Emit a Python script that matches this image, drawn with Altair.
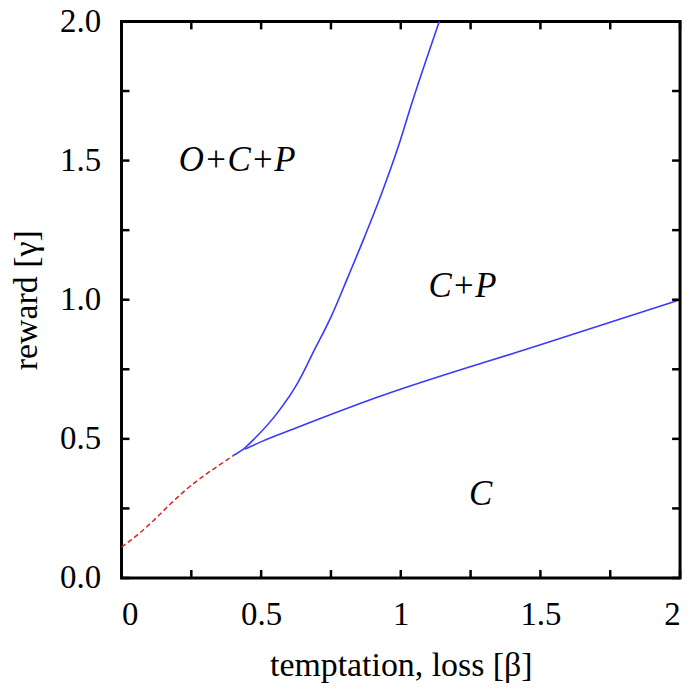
import altair as alt
import pandas as pd

# dashed (red) boundary
red_beta = [0.0, 0.055, 0.114, 0.174, 0.233, 0.293, 0.352, 0.400]
red_gamma = [0.111, 0.153, 0.206, 0.265, 0.319, 0.366, 0.407, 0.440]

# upper blue boundary (O+C+P | C+P)
up_beta = [0.400, 0.442, 0.4775, 0.561, 0.632, 0.686, 0.751, 0.811, 0.870, 0.930, 0.989, 1.037, 1.138]
up_gamma = [0.440, 0.468, 0.502, 0.597, 0.703, 0.810, 0.940, 1.082, 1.225, 1.378, 1.544, 1.698, 2.0]

# lower blue boundary (C+P | C)
lo_beta = [0.442, 0.501, 0.620, 0.918, 1.5, 2.0]
lo_gamma = [0.463, 0.490, 0.537, 0.650, 0.838, 1.0]

labels = ["O+C+P", "C+P", "C"]
label_beta = [0.414, 1.221, 1.286]
label_gamma = [1.503, 1.048, 0.302]

x_ticks = [0, 0.25, 0.5, 0.75, 1.0, 1.25, 1.5, 1.75, 2.0]
y_ticks = [0, 0.25, 0.5, 0.75, 1.0, 1.25, 1.5, 1.75, 2.0]

W, H = 561, 559
FONT = "Liberation Serif"

red_df = pd.DataFrame({"b": red_beta, "g": red_gamma, "i": range(len(red_beta))})
up_df = pd.DataFrame({"b": up_beta, "g": up_gamma, "i": range(len(up_beta))})
lo_df = pd.DataFrame({"b": lo_beta, "g": lo_gamma, "i": range(len(lo_beta))})
lab_df = pd.DataFrame({"t": labels, "b": label_beta, "g": label_gamma})
xt_df = pd.DataFrame({"v": x_ticks})
yt_df = pd.DataFrame({"v": y_ticks})

xscale = alt.Scale(domain=[0, 2], nice=False)
yscale = alt.Scale(domain=[0, 2], nice=False)

xaxis = alt.Axis(values=[0, 0.5, 1, 1.5, 2],
                 labelExpr="datum.value % 1 == 0 ? format(datum.value, 'd') : format(datum.value, '.1f')",
                 title="temptation, loss [β]", ticks=False, domain=False, grid=False,
                 labelFont=FONT, labelFontSize=33, labelColor="black", labelPadding=21,
                 titleFont=FONT, titleFontSize=34, titleFontWeight="normal", titleColor="black", titlePadding=17)
yaxis = alt.Axis(values=[0, 0.5, 1, 1.5, 2], format=".1f",
                 title="reward [γ]", ticks=False, domain=False, grid=False,
                 labelFont=FONT, labelFontSize=33, labelColor="black", labelPadding=21,
                 titleFont=FONT, titleFontSize=34, titleFontWeight="normal", titleColor="black", titlePadding=16)

red = alt.Chart(red_df).mark_line(color="#dd2222", strokeWidth=1.5, strokeDash=[5, 3],
                                  interpolate="monotone").encode(
    x=alt.X("b:Q", scale=xscale, axis=xaxis),
    y=alt.Y("g:Q", scale=yscale, axis=yaxis),
    order="i:Q",
)
up = alt.Chart(up_df).mark_line(color="#3a3aff", strokeWidth=1.6, interpolate="monotone").encode(
    x=alt.X("b:Q", scale=xscale), y=alt.Y("g:Q", scale=yscale), order="i:Q"
)
lo = alt.Chart(lo_df).mark_line(color="#3a3aff", strokeWidth=1.6, interpolate="monotone").encode(
    x=alt.X("b:Q", scale=xscale), y=alt.Y("g:Q", scale=yscale), order="i:Q"
)
txt = alt.Chart(lab_df).mark_text(font=FONT, fontSize=35, fontStyle="italic", color="black",
                                  align="center", baseline="middle").encode(
    x=alt.X("b:Q", scale=xscale), y=alt.Y("g:Q", scale=yscale), text="t:N"
)

tl = 8
tick_style = dict(color="black", strokeWidth=2.5)
xb = alt.Chart(xt_df).mark_rule(**tick_style).encode(x=alt.X("v:Q", scale=xscale), y=alt.value(H), y2=alt.value(H - tl))
xtp = alt.Chart(xt_df).mark_rule(**tick_style).encode(x=alt.X("v:Q", scale=xscale), y=alt.value(0), y2=alt.value(tl))
yl = alt.Chart(yt_df).mark_rule(**tick_style).encode(y=alt.Y("v:Q", scale=yscale), x=alt.value(0), x2=alt.value(tl))
yr = alt.Chart(yt_df).mark_rule(**tick_style).encode(y=alt.Y("v:Q", scale=yscale), x=alt.value(W), x2=alt.value(W - tl))

chart = alt.layer(red, up, lo, txt, xb, xtp, yl, yr).properties(
    width=W, height=H,
    background="white",
    autosize=alt.AutoSizeParams(type="none"),
    padding={"left": 114, "top": 12, "right": 12, "bottom": 112},
).configure_view(stroke="black", strokeWidth=3)

chart.save("out.html", embed_options={"renderer": "svg", "actions": False})
